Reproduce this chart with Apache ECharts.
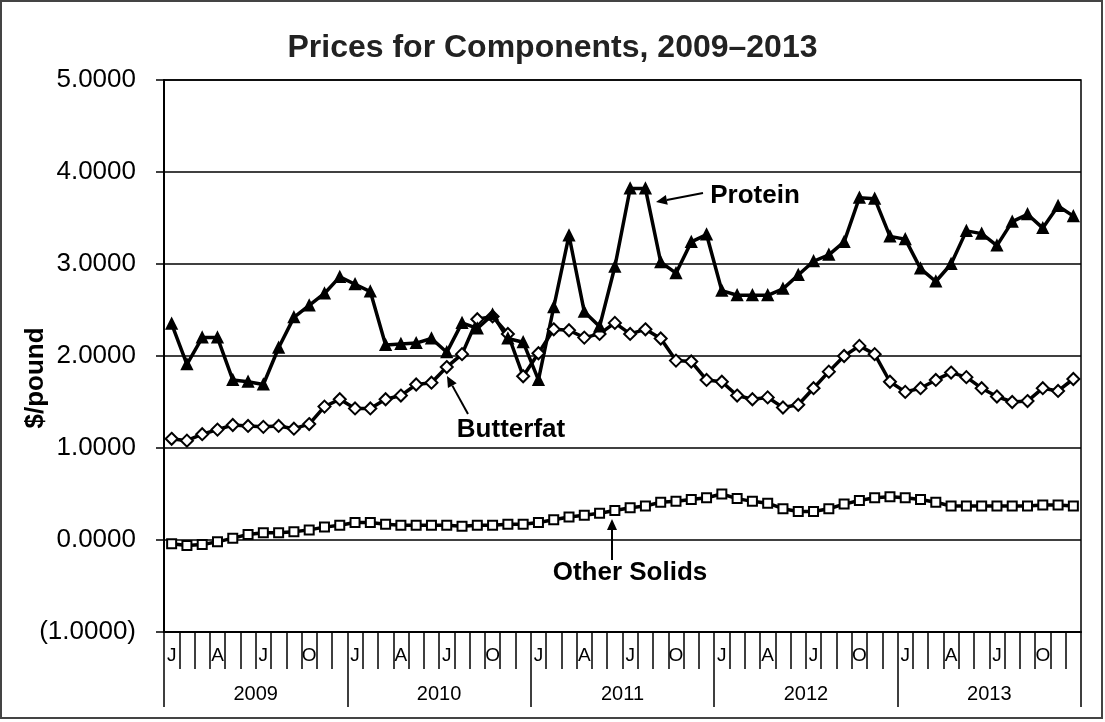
<!DOCTYPE html>
<html>
<head>
<meta charset="utf-8">
<script src="https://cdn.jsdelivr.net/npm/echarts@6/dist/echarts.min.js"></script>
<style>
  html, body { margin: 0; padding: 0; background: #fff; }
  #chart { width: 1105px; height: 722px; }
</style>
</head>
<body>
<div id="chart"></div>
<script>
  // month initials shown under the axis (one per month, blank for the rest)
  var monthLabels = ['J', '', '', 'A', '', '', 'J', '', '', 'O', '', ''];
  var years = ['2009', '2010', '2011', '2012', '2013'];

  // $/pound, Jan 2009 .. Dec 2013
  var protein = [
    2.35, 1.91, 2.20, 2.20, 1.74, 1.72, 1.69, 2.09, 2.42, 2.55, 2.68, 2.86,
    2.78, 2.70, 2.12, 2.13, 2.14, 2.19, 2.04, 2.36, 2.30, 2.45, 2.19, 2.15,
    1.74, 2.53, 3.31, 2.48, 2.32, 2.97, 3.82, 3.82, 3.02, 2.90, 3.24, 3.32,
    2.71, 2.66, 2.66, 2.66, 2.73, 2.88, 3.03, 3.10, 3.24, 3.72, 3.71, 3.30,
    3.27, 2.95, 2.81, 3.00, 3.36, 3.33, 3.20, 3.46, 3.54, 3.39, 3.63, 3.52
  ];
  var butterfat = [
    1.10, 1.08, 1.15, 1.20, 1.25, 1.24, 1.23, 1.24, 1.21, 1.26, 1.45, 1.53,
    1.43, 1.43, 1.53, 1.57, 1.69, 1.71, 1.88, 2.02, 2.40, 2.43, 2.24, 1.78,
    2.03, 2.29, 2.28, 2.20, 2.24, 2.36, 2.24, 2.29, 2.19, 1.95, 1.94, 1.74,
    1.72, 1.57, 1.53, 1.55, 1.44, 1.47, 1.65, 1.83, 2.00, 2.11, 2.02, 1.72,
    1.61, 1.65, 1.74, 1.82, 1.77, 1.65, 1.56, 1.50, 1.51, 1.65, 1.62, 1.75
  ];
  var otherSolids = [
    -0.04, -0.06, -0.05, -0.02, 0.02, 0.06, 0.08, 0.08, 0.09, 0.11, 0.14, 0.16,
    0.19, 0.19, 0.17, 0.16, 0.16, 0.16, 0.16, 0.15, 0.16, 0.16, 0.17, 0.17,
    0.19, 0.22, 0.25, 0.27, 0.29, 0.32, 0.35, 0.37, 0.41, 0.42, 0.44, 0.46,
    0.50, 0.45, 0.42, 0.40, 0.34, 0.31, 0.31, 0.34, 0.39, 0.43, 0.46, 0.47,
    0.46, 0.44, 0.41, 0.37, 0.37, 0.37, 0.37, 0.37, 0.37, 0.38, 0.38, 0.37
  ];

  var FONT = '"Liberation Sans", Arial, sans-serif';

  var months = [];
  years.forEach(function () {
    monthLabels.forEach(function (m) { months.push(m); });
  });

  // arrow = line + small filled head, used for the series call-outs
  function arrow(x1, y1, x2, y2) {
    var a = Math.atan2(y2 - y1, x2 - x1), L = 11, W = 5;
    var bx = x2 - L * Math.cos(a), by = y2 - L * Math.sin(a);
    var px = -Math.sin(a) * W, py = Math.cos(a) * W;
    return [
      { type: 'line', shape: { x1: x1, y1: y1, x2: bx, y2: by }, style: { stroke: '#000', lineWidth: 2 } },
      { type: 'polygon', shape: { points: [[x2, y2], [bx + px, by + py], [bx - px, by - py]] }, style: { fill: '#000' } }
    ];
  }

  function callout(text, x, y) {
    return { type: 'text', x: x, y: y, style: { text: text, font: 'bold 26px ' + FONT, fill: '#000', textAlign: 'center', textVerticalAlign: 'middle' } };
  }

  var lineSeries = function (name, data, symbol, size, filled) {
    return {
      name: name,
      type: 'line',
      data: data,
      symbol: symbol,
      symbolSize: size,
      showAllSymbol: true,
      lineStyle: { color: '#000', width: 3.5 },
      itemStyle: { color: filled ? '#000' : '#fff', borderColor: '#000', borderWidth: 2 },
      animation: false
    };
  };

  var chart = echarts.init(document.getElementById('chart'));
  chart.setOption({
    backgroundColor: '#fff',
    title: {
      text: 'Prices for Components, 2009\u20132013',
      left: 'center',
      top: 27,
      textStyle: { fontFamily: FONT, fontSize: 32, fontWeight: 'bold', color: '#222' }
    },
    grid: {
      left: 164, right: 24, top: 80, bottom: 90,
      show: true, borderColor: '#000', borderWidth: 1.5
    },
    xAxis: [{
      type: 'category',
      data: months,
      boundaryGap: true,
      axisLine: { onZero: false, lineStyle: { color: '#000', width: 2 } },
      axisTick: { show: true, interval: 0, length: 37, lineStyle: { color: '#000', width: 1.5 } },
      axisLabel: { interval: 0, margin: 14, fontFamily: FONT, fontSize: 19, color: '#000' }
    }, {
      type: 'category',
      data: years,
      position: 'bottom',
      boundaryGap: true,
      axisLine: { show: false, onZero: false },
      axisTick: { show: true, interval: 0, length: 75, lineStyle: { color: '#000', width: 1.5 } },
      axisLabel: { interval: 0, margin: 52, fontFamily: FONT, fontSize: 20, color: '#000' }
    }],
    yAxis: {
      type: 'value',
      min: -1,
      max: 5,
      interval: 1,
      axisLine: { show: true, lineStyle: { color: '#000', width: 2 } },
      axisTick: { show: true, length: 8, lineStyle: { color: '#000', width: 1.5 } },
      axisLabel: {
        margin: 28,
        fontFamily: FONT, fontSize: 26, color: '#000',
        formatter: function (v) {
          return v < 0 ? '(' + Math.abs(v).toFixed(4) + ')' : v.toFixed(4);
        }
      },
      splitLine: { show: true, lineStyle: { color: '#000', width: 1.5 } }
    },
    series: [
      lineSeries('Other Solids', otherSolids, 'rect', 9, false),
      lineSeries('Butterfat', butterfat, 'diamond', 12, false),
      lineSeries('Protein', protein, 'triangle', 10, true)
    ],
    graphic: [
      { type: 'rect', shape: { x: 1, y: 1, width: 1101, height: 717 }, style: { fill: 'none', stroke: '#444', lineWidth: 2 } },
      { type: 'text', x: 36, y: 378, rotation: Math.PI / 2,
        style: { text: '$/pound', font: 'bold 26px ' + FONT, fill: '#000', textAlign: 'center', textVerticalAlign: 'middle' } },
      callout('Protein', 755, 196),
      callout('Butterfat', 511, 430),
      callout('Other Solids', 630, 573)
    ].concat(arrow(703, 193, 656, 202))
     .concat(arrow(468, 414, 447, 376))
     .concat(arrow(612, 560, 612, 519))
  });
</script>
</body>
</html>
